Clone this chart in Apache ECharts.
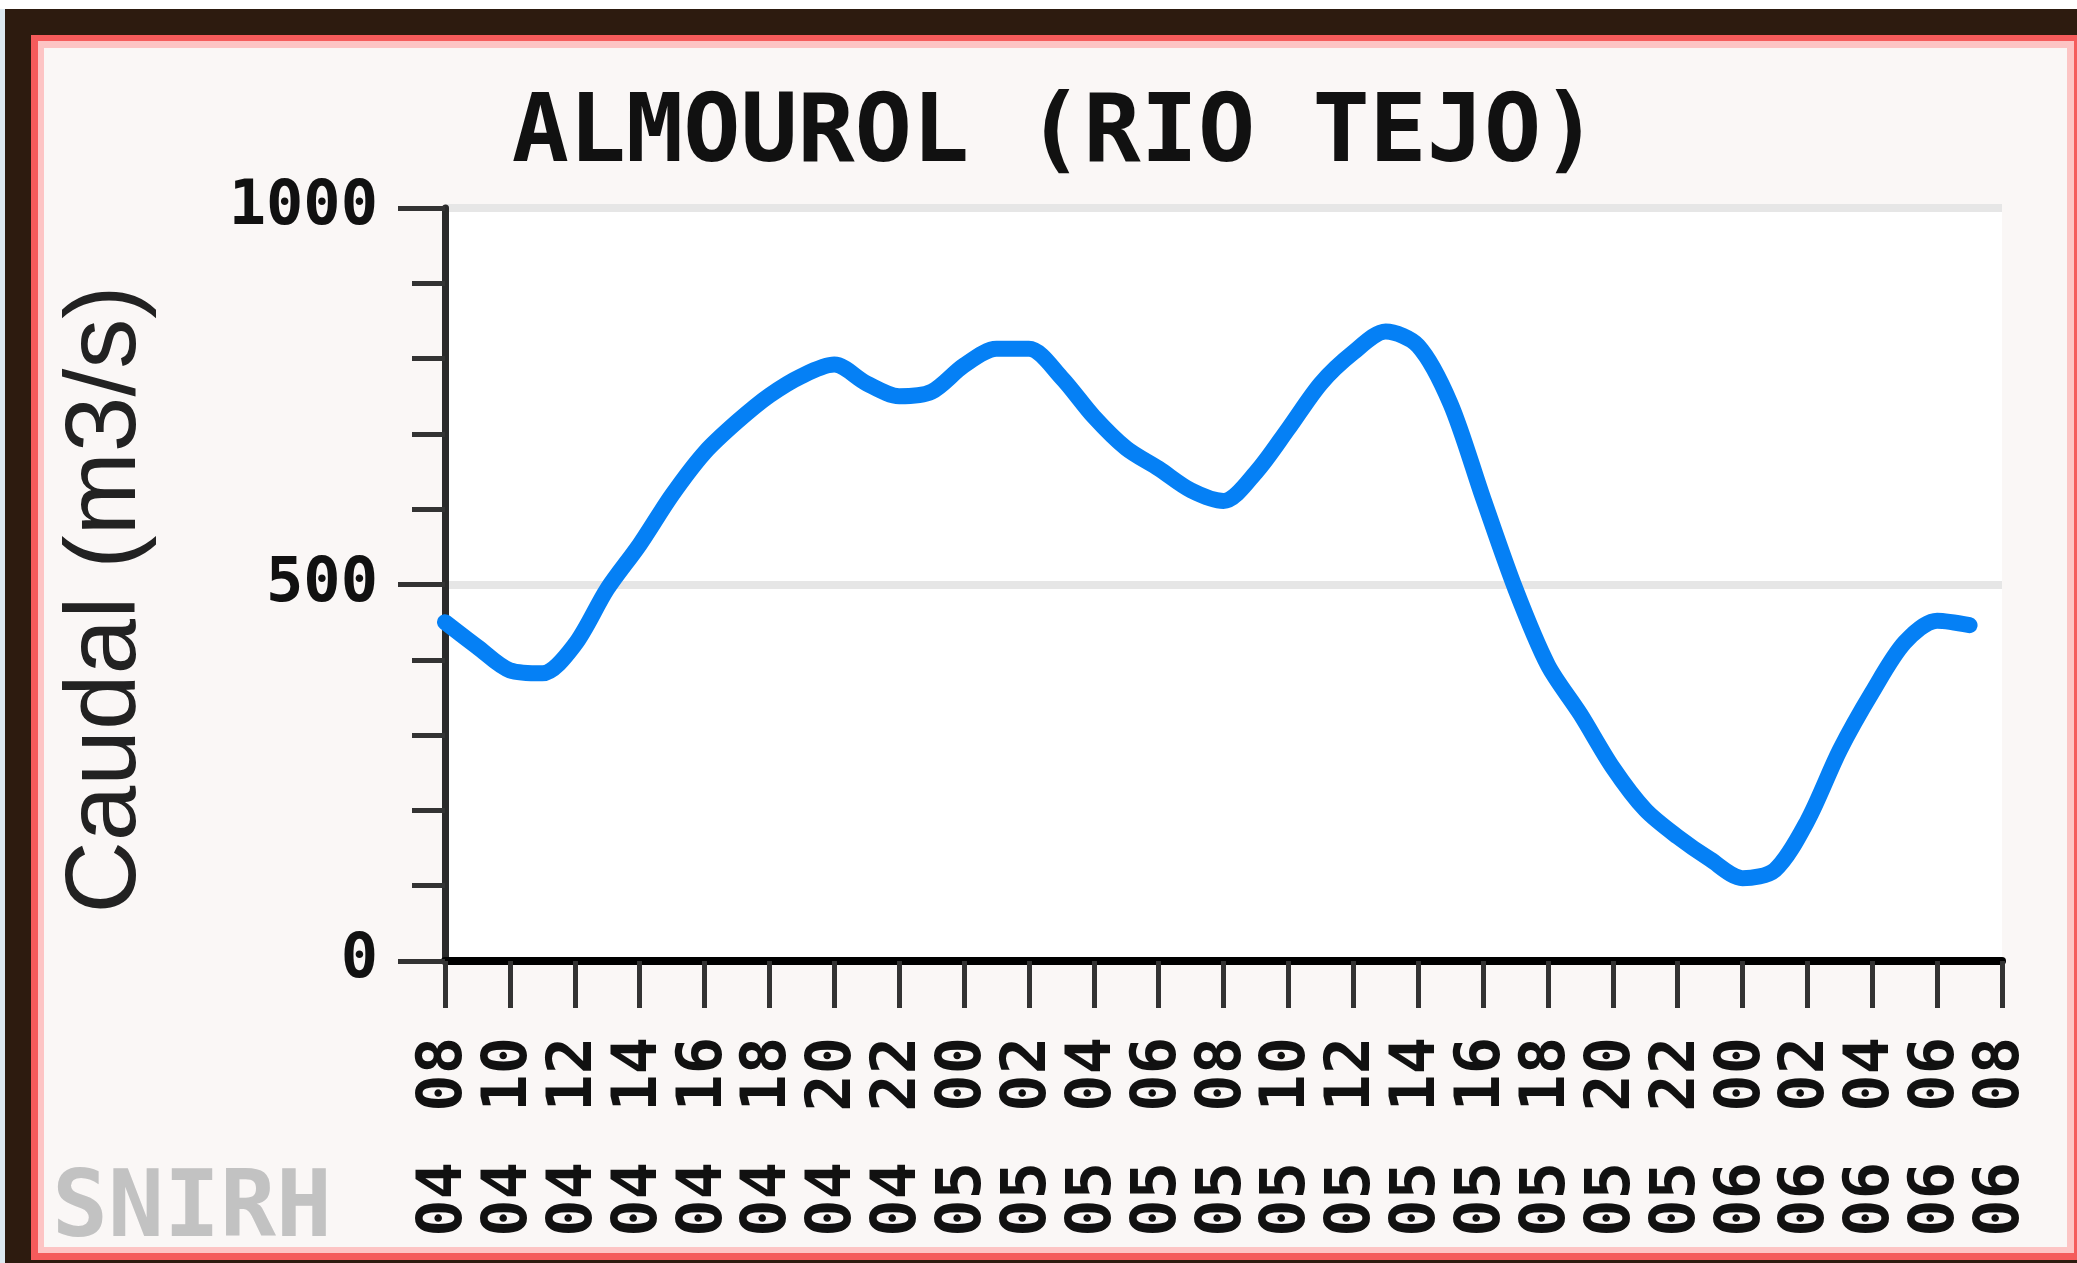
<!DOCTYPE html>
<html>
<head>
<meta charset="utf-8">
<script src="https://cdn.jsdelivr.net/npm/echarts@6/dist/echarts.min.js"></script>
<style>
html,body{margin:0;padding:0;width:100%;height:100%;overflow:hidden;}
#chart{width:2077px;height:1263px;}
</style>
</head>
<body>
<div id="chart"></div>
<script>
// Hours elapsed since 04 08:00
var hours = [0,1,2,3,4,5,6,7,8,9,10,11,12,13,14,15,16,17,18,19,20,21,22,23,24,25,26,27,28,29,30,31,32,33,34,35,36,37,38,39,40,41,42,43,44,45,46,47];
// Caudal (m3/s)
var flow = [450,417,386,382,420,494,553,619,675,716,751,777,792,767,750,756,791,813,813,775,723,681,654,625,611,649,707,767,808,836,817,740,615,494,393,328,257,201,165,135,110,121,186,280,357,423,452,446];
// Tick labels (every 2 hours)
var hourLabels = ['08','10','12','14','16','18','20','22','00','02','04','06','08','10','12','14','16','18','20','22','00','02','04','06','08'];
var dayLabels  = ['04','04','04','04','04','04','04','04','05','05','05','05','05','05','05','05','05','05','05','05','06','06','06','06','06'];
var yTicks = [0, 500, 1000];

var chart = echarts.init(document.getElementById('chart'), null, {renderer:'canvas'});
var mono = 'DejaVu Sans Mono';
var pts = hours.map(function(h,i){ return [h, flow[i]]; });

chart.setOption({
  backgroundColor: '#2d1b0f',
  animation: false,
  graphic: [
    {type:'rect', z:-10, shape:{x:0,y:0,width:2077,height:9}, style:{fill:'#ffffff'}},
    {type:'rect', z:-10, shape:{x:0,y:9,width:5,height:1254}, style:{fill:'#dde9f0'}},
    {type:'rect', z:-10, shape:{x:31,y:35,width:2060,height:1225}, style:{fill:'#f55b5b'}},
    {type:'rect', z:-10, shape:{x:38,y:41,width:2036,height:1212}, style:{fill:'#fdc4c4'}},
    {type:'rect', z:-10, shape:{x:44,y:48,width:2023,height:1199}, style:{fill:'#faf7f6'}},
    {type:'text', z:10, x:52, y:1212, style:{text:'SNIRH', fill:'#c2c2c2', font:'bold 93px "DejaVu Sans Mono"', textVerticalAlign:'middle', textAlign:'left'}}
  ],
  title: {
    text: 'ALMOUROL (RIO TEJO)',
    left: 1050,
    textAlign: 'center',
    top: 84,
    textStyle: {fontFamily: mono, fontWeight: 'bold', fontSize: 95, color: '#111'}
  },
  grid: {
    left: 445, top: 208, width: 1557, height: 753,
    show: true, backgroundColor: '#ffffff', borderWidth: 0
  },
  xAxis: [{
    type: 'value', min: 0, max: 48, interval: 2,
    axisLine: {show: true, onZero: false, lineStyle: {color: '#000', width: 8}},
    axisTick: {show: true, length: 47, lineStyle: {color: '#333', width: 5}},
    splitLine: {show: false},
    axisLabel: {
      rotate: 90, margin: 76, fontFamily: mono, fontWeight: 'bold', fontSize: 62, color: '#111',
      formatter: function(v){ return hourLabels[Math.round(v/2)]; }
    }
  },{
    type: 'value', min: 0, max: 48, interval: 2, position: 'bottom', offset: 0,
    axisLine: {show: false}, axisTick: {show: false}, splitLine: {show: false},
    axisLabel: {
      rotate: 90, margin: 201, fontFamily: mono, fontWeight: 'bold', fontSize: 62, color: '#111',
      formatter: function(v){ return dayLabels[Math.round(v/2)]; }
    }
  }],
  yAxis: {
    type: 'value', min: yTicks[0], max: yTicks[2], interval: 500,
    name: 'Caudal (m3/s)', nameLocation: 'middle', nameRotate: 90, nameGap: 288,
    nameTextStyle: {fontFamily: 'Liberation Sans', fontSize: 100, color: '#222', padding: [0, 30, 0, 0]},
    axisLine: {show: true, lineStyle: {color: '#2a2a2a', width: 7}},
    axisTick: {show: true, length: 47, lineStyle: {color: '#333', width: 5}},
    minorTick: {show: true, splitNumber: 5, length: 33, lineStyle: {color: '#333', width: 5}},
    splitLine: {show: true, lineStyle: {color: '#e6e6e6', width: 8}},
    axisLabel: {margin: 67, fontFamily: mono, fontWeight: 'bold', fontSize: 62, color: '#111',
      formatter: function(v){ return String(v); }}
  },
  series: [{
    type: 'line',
    xAxisIndex: 0,
    data: pts,
    showSymbol: false,
    smooth: 0.3,
    lineStyle: {color: '#0580f5', width: 16, cap: 'round', join: 'round'}
  }]
});
</script>
</body>
</html>
